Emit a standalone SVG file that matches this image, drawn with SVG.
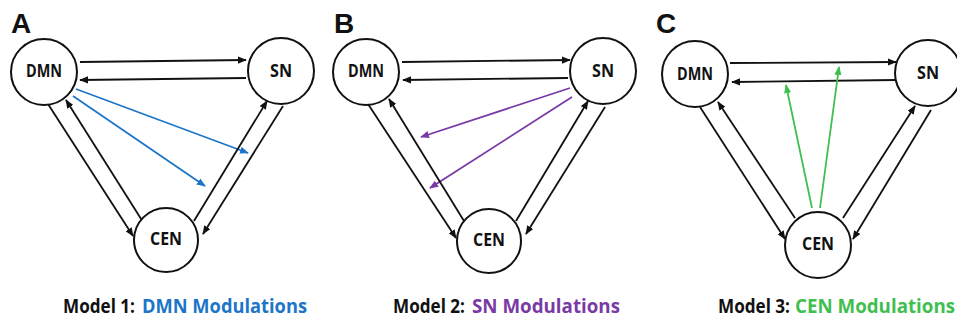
<svg xmlns="http://www.w3.org/2000/svg" width="957" height="320" viewBox="0 0 957 320">
<style>
.node circle{fill:#fff;stroke:#111;stroke-width:2}
.node text{font-family:"Open Sans","Liberation Sans",sans-serif;font-weight:bold;font-size:17px;text-anchor:middle;fill:#111}
.lbl{font-family:"Liberation Sans",sans-serif;font-weight:bold;font-size:28px;fill:#111}
.cap{font-family:"Open Sans","Liberation Sans",sans-serif;font-weight:bold;font-size:19px;fill:#111}
.cap.cb{fill:#1c75c8}
.cap.cp{fill:#7a3aa6}
.cap.cg{fill:#3fbf4f}
.k{stroke:#111;stroke-width:1.8;fill:none;marker-end:url(#ak)}
.b{stroke:#1c75c8;stroke-width:1.8;fill:none;marker-end:url(#ab)}
.p{stroke:#7a3aa6;stroke-width:1.8;fill:none;marker-end:url(#ap)}
.g{stroke:#3fbf4f;stroke-width:1.8;fill:none;marker-end:url(#ag)}
</style>
<defs>
<marker id="ak" viewBox="0 0 10 8" refX="9" refY="4" markerWidth="5" markerHeight="4" orient="auto" markerUnits="strokeWidth"><path d="M0,0L10,4L0,8z" fill="#111"/></marker>
<marker id="ab" viewBox="0 0 10 8" refX="9" refY="4" markerWidth="5" markerHeight="4" orient="auto" markerUnits="strokeWidth"><path d="M0,0L10,4L0,8z" fill="#1c75c8"/></marker>
<marker id="ap" viewBox="0 0 10 8" refX="9" refY="4" markerWidth="5" markerHeight="4" orient="auto" markerUnits="strokeWidth"><path d="M0,0L10,4L0,8z" fill="#7a3aa6"/></marker>
<marker id="ag" viewBox="0 0 10 8" refX="9" refY="4" markerWidth="5" markerHeight="4" orient="auto" markerUnits="strokeWidth"><path d="M0,0L10,4L0,8z" fill="#3fbf4f"/></marker>
</defs>
<text class="lbl" x="11" y="33">A</text>
<text class="lbl" x="334" y="33">B</text>
<text class="lbl" x="656" y="33">C</text>
<g id="connectors">
<line class="k" x1="80" y1="62" x2="246" y2="60"/>
<line class="k" x1="246" y1="78" x2="80" y2="80"/>
<line class="b" x1="76" y1="89" x2="248" y2="153"/>
<line class="b" x1="73" y1="96" x2="205" y2="186"/>
<line class="k" x1="48" y1="104" x2="133" y2="236"/>
<line class="k" x1="143" y1="222" x2="66" y2="100"/>
<line class="k" x1="194" y1="221" x2="267" y2="101"/>
<line class="k" x1="283" y1="106" x2="203" y2="234"/>

<line class="k" x1="402" y1="62" x2="570" y2="60"/>
<line class="k" x1="568" y1="78" x2="403" y2="80"/>
<line class="p" x1="570" y1="88" x2="421" y2="137"/>
<line class="p" x1="572" y1="97" x2="430" y2="188"/>
<line class="k" x1="368" y1="104" x2="456" y2="238"/>
<line class="k" x1="464" y1="221" x2="389" y2="99"/>
<line class="k" x1="516" y1="221" x2="588" y2="101"/>
<line class="k" x1="605" y1="107" x2="526" y2="234"/>

<line class="k" x1="730" y1="63" x2="896" y2="62"/>
<line class="k" x1="896" y1="80" x2="732" y2="82"/>
<line class="g" x1="812" y1="208" x2="786" y2="85"/>
<line class="g" x1="820" y1="208" x2="839" y2="67"/>
<line class="k" x1="700" y1="107" x2="785" y2="239"/>
<line class="k" x1="795" y1="218" x2="718" y2="102"/>
<line class="k" x1="843" y1="218" x2="915" y2="106"/>
<line class="k" x1="931" y1="110" x2="853" y2="239"/>
</g>
<g id="A-DMN" class="node"><circle cx="44" cy="72" r="33"/><text x="44" y="77" textLength="36" lengthAdjust="spacingAndGlyphs">DMN</text></g>
<g id="A-SN" class="node"><circle cx="281" cy="71" r="33"/><text x="281" y="77" textLength="22" lengthAdjust="spacingAndGlyphs">SN</text></g>
<g id="A-CEN" class="node"><circle cx="166" cy="240" r="32"/><text x="166" y="245" textLength="32" lengthAdjust="spacingAndGlyphs">CEN</text></g>
<g id="B-DMN" class="node"><circle cx="366" cy="72" r="33"/><text x="366" y="77" textLength="36" lengthAdjust="spacingAndGlyphs">DMN</text></g>
<g id="B-SN" class="node"><circle cx="603" cy="71" r="33"/><text x="603" y="77" textLength="22" lengthAdjust="spacingAndGlyphs">SN</text></g>
<g id="B-CEN" class="node"><circle cx="489" cy="241" r="32"/><text x="489" y="246" textLength="32" lengthAdjust="spacingAndGlyphs">CEN</text></g>
<g id="C-DMN" class="node"><circle cx="695" cy="74" r="33"/><text x="695" y="80" textLength="36" lengthAdjust="spacingAndGlyphs">DMN</text></g>
<g id="C-SN" class="node"><circle cx="928" cy="73" r="33"/><text x="928" y="79" textLength="22" lengthAdjust="spacingAndGlyphs">SN</text></g>
<g id="C-CEN" class="node"><circle cx="818" cy="245" r="33"/><text x="818" y="250" textLength="32" lengthAdjust="spacingAndGlyphs">CEN</text></g>
<text class="cap" x="63" y="313" textLength="72" lengthAdjust="spacingAndGlyphs">Model 1:</text>
<text class="cap cb" x="142" y="313" textLength="165" lengthAdjust="spacingAndGlyphs">DMN Modulations</text>
<text class="cap" x="393" y="313" textLength="72" lengthAdjust="spacingAndGlyphs">Model 2:</text>
<text class="cap cp" x="472" y="313" textLength="148" lengthAdjust="spacingAndGlyphs">SN Modulations</text>
<text class="cap" x="718" y="313" textLength="72" lengthAdjust="spacingAndGlyphs">Model 3:</text>
<text class="cap cg" x="795" y="313" textLength="160" lengthAdjust="spacingAndGlyphs">CEN Modulations</text>
</svg>
